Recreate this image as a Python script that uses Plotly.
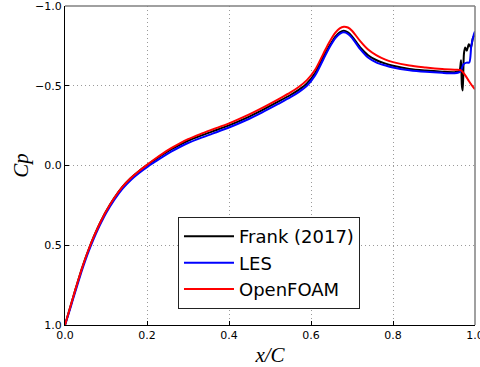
import plotly.graph_objects as go

# ---- data ----
x_frank = [0.0, 0.01, 0.02, 0.03, 0.04, 0.05, 0.06, 0.07, 0.08, 0.09, 0.10, 0.12, 0.14, 0.16, 0.18,
           0.20, 0.22, 0.24, 0.26, 0.28, 0.30, 0.33, 0.36, 0.40, 0.44, 0.48, 0.52, 0.55, 0.57, 0.59,
           0.61, 0.63, 0.645, 0.66, 0.67, 0.68, 0.69, 0.70, 0.72, 0.74, 0.76, 0.78, 0.80, 0.84,
           0.88, 0.92, 0.95, 0.96, 0.963, 0.966, 0.968, 0.970, 0.973, 0.976, 0.980, 0.985, 0.990,
           0.995, 1.0]
cp_frank = [1.0, 0.912, 0.824, 0.738, 0.656, 0.58, 0.511, 0.448, 0.39, 0.337, 0.288, 0.204, 0.134,
            0.08, 0.036, -0.002, -0.037, -0.071, -0.102, -0.130, -0.155, -0.186, -0.214, -0.252,
            -0.296, -0.346, -0.40, -0.442, -0.474, -0.514, -0.58, -0.68, -0.75, -0.81, -0.835,
            -0.845, -0.835, -0.81, -0.74, -0.69, -0.66, -0.64, -0.625, -0.605, -0.595, -0.588,
            -0.585, -0.59, -0.60, -0.66, -0.50, -0.47, -0.70, -0.74, -0.72, -0.76, -0.74, -0.80, -0.82]

x_les = [0.0, 0.01, 0.02, 0.03, 0.04, 0.05, 0.06, 0.07, 0.08, 0.09, 0.10, 0.12, 0.14, 0.16, 0.18,
         0.20, 0.22, 0.24, 0.26, 0.28, 0.30, 0.33, 0.36, 0.40, 0.44, 0.48, 0.52, 0.55, 0.57, 0.59,
         0.61, 0.63, 0.645, 0.66, 0.67, 0.68, 0.69, 0.70, 0.72, 0.74, 0.76, 0.78, 0.80, 0.84,
         0.88, 0.92, 0.95, 0.96, 0.965, 0.972, 0.980, 0.986, 0.991, 0.997, 1.0]
cp_les = [1.0, 0.92, 0.834, 0.75, 0.668, 0.592, 0.523, 0.46, 0.402, 0.349, 0.30, 0.216, 0.146,
          0.092, 0.048, 0.01, -0.024, -0.057, -0.088, -0.116, -0.141, -0.172, -0.200, -0.238,
          -0.282, -0.332, -0.386, -0.428, -0.46, -0.50, -0.565, -0.665, -0.74, -0.80, -0.825,
          -0.835, -0.825, -0.80, -0.73, -0.675, -0.645, -0.628, -0.614, -0.597, -0.587, -0.581,
          -0.579, -0.583, -0.59, -0.635, -0.645, -0.645, -0.75, -0.82, -0.84]

x_of = [0.0, 0.01, 0.02, 0.03, 0.04, 0.05, 0.06, 0.07, 0.08, 0.09, 0.10, 0.12, 0.14, 0.16, 0.18,
        0.20, 0.22, 0.24, 0.26, 0.28, 0.30, 0.33, 0.36, 0.40, 0.44, 0.48, 0.52, 0.55, 0.57, 0.59,
        0.61, 0.63, 0.645, 0.66, 0.67, 0.68, 0.69, 0.70, 0.72, 0.74, 0.76, 0.78, 0.80, 0.84,
        0.88, 0.92, 0.95, 0.965, 0.975, 0.985, 0.993, 1.0]
cp_of = [1.0, 0.912, 0.824, 0.738, 0.656, 0.58, 0.511, 0.448, 0.39, 0.337, 0.288, 0.204, 0.134,
         0.08, 0.036, -0.004, -0.042, -0.078, -0.110, -0.139, -0.165, -0.197, -0.226, -0.264,
         -0.309, -0.36, -0.415, -0.458, -0.492, -0.535, -0.6, -0.7, -0.775, -0.835, -0.86, -0.87,
         -0.865, -0.845, -0.78, -0.725, -0.69, -0.665, -0.648, -0.627, -0.615, -0.605, -0.60,
         -0.598, -0.57, -0.53, -0.50, -0.478]

x_ticks = [0.0, 0.2, 0.4, 0.6, 0.8, 1.0]
x_ticklabels = ["0.0", "0.2", "0.4", "0.6", "0.8", "1.0"]
y_ticks = [-1.0, -0.5, 0.0, 0.5, 1.0]
y_ticklabels = ["\u22121.0", "\u22120.5", "0.0", "0.5", "1.0"]

series = [("Frank (2017)", x_frank, cp_frank, "#000000"),
          ("LES", x_les, cp_les, "#0000ff"),
          ("OpenFOAM", x_of, cp_of, "#ff0000")]

fig = go.Figure()
for name, xs, ys, col in series:
    fig.add_trace(go.Scatter(x=xs, y=ys, mode="lines", name=name,
                             line=dict(color=col, width=2, shape="spline", smoothing=0.8)))

tick_font = dict(family="DejaVu Sans", size=11, color="#000000")
grid = dict(showgrid=True, gridcolor="#9a9a9a", griddash="1px,3px", gridwidth=1)
fig.update_layout(
    width=480, height=367,
    margin=dict(l=65, r=5, t=6, b=42, autoexpand=False),
    paper_bgcolor="white", plot_bgcolor="white",
    showlegend=True,
    legend=dict(x=0.2756, y=0.05, xanchor="left", yanchor="bottom",
                bordercolor="#222222", borderwidth=1, bgcolor="white",
                font=dict(family="DejaVu Sans", size=18, color="#000000"),
                itemwidth=50, tracegroupgap=0),
    xaxis=dict(range=[0, 1], tickmode="array", tickvals=x_ticks, ticktext=x_ticklabels,
               ticklabeloverflow="allow", automargin=False,
               showline=True, linecolor="#000000", linewidth=1.2, mirror=False,
               ticks="inside", ticklen=4, tickcolor="#000000",
               zeroline=False, tickfont=tick_font,
               title=dict(text="<i>x/C</i>", standoff=6,
                          font=dict(family="Liberation Serif", size=21, color="#000000")),
               **grid),
    yaxis=dict(range=[1, -1], tickmode="array", tickvals=y_ticks, ticktext=y_ticklabels,
               ticklabeloverflow="allow", automargin=False,
               showline=True, linecolor="#000000", linewidth=1.2, mirror=False,
               ticks="inside", ticklen=4, tickcolor="#000000",
               zeroline=False, tickfont=tick_font,
               title=dict(text="<i>Cp</i>", standoff=0,
                          font=dict(family="Liberation Serif", size=21, color="#000000")),
               **grid),
    shapes=[
        dict(type="line", xref="paper", yref="paper", x0=0, x1=1, y0=1, y1=1,
             line=dict(color="#808080", width=1.5)),
        dict(type="line", xref="paper", yref="paper", x0=1, x1=1, y0=0, y1=1,
             line=dict(color="#808080", width=1.5)),
    ],
)

fig.write_html("out.html")
